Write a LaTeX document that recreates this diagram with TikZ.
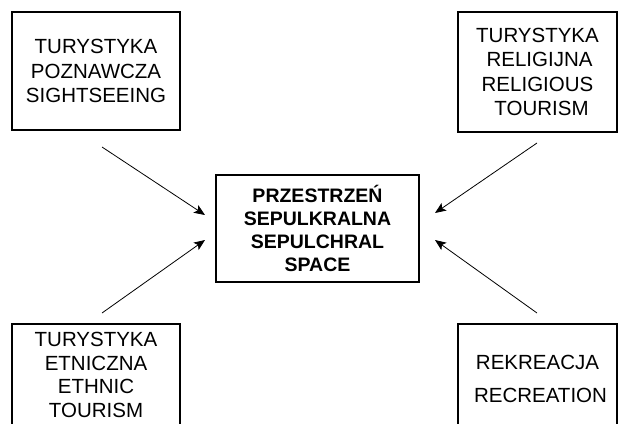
\documentclass[tikz,border=0pt]{standalone}
\usepackage{fontspec}
\setmainfont{Liberation Sans}
\usetikzlibrary{arrows.meta}
\begin{document}
\begin{tikzpicture}[x=1pt,y=-1pt,
  box/.style={draw=black,line width=1.6pt,inner sep=0pt,align=center,
    font=\fontsize{20.5}{24.5}\selectfont},
  cbox/.style={box,font=\fontsize{19.5}{23}\selectfont\bfseries},
  arr/.style={line width=0.8pt,-{Stealth[length=11pt,width=9pt,inset=2.5pt]}}]
\useasboundingbox[fill=white] (0,0) rectangle (618,423);
\node[box,minimum width=168pt,minimum height=118pt] (tl) at (96,71)
  {TURYSTYKA\\POZNAWCZA\\SIGHTSEEING};
\node[box,minimum width=159pt,minimum height=120pt] (tr) at (537.5,72)
  {TURYSTYKA\\\hspace*{4pt}RELIGIJNA\\RELIGIOUS\\\hspace*{8pt}TOURISM};
\node[cbox,minimum width=203pt,minimum height=107pt] (c) at (317.5,228.5)
  {PRZESTRZEŃ\\SEPULKRALNA\\SEPULCHRAL\\SPACE};
\node[box,minimum width=168pt,minimum height=102pt,
  font=\fontsize{20.5}{23.5}\selectfont] (bl) at (96,375)
  {TURYSTYKA\\ETNICZNA\\ETHNIC\\TOURISM};
\node[box,minimum width=159pt,minimum height=110pt] (br) at (537.5,379)
  {REKREACJA\\[8.5pt]\hspace*{6pt}RECREATION};
\coordinate (s1) at (102,147);
\coordinate (t1) at (205,215);
\coordinate (s2) at (537,143);
\coordinate (t2) at (435,213);
\coordinate (s3) at (102,313);
\coordinate (t3) at (205,240);
\coordinate (s4) at (537,313);
\coordinate (t4) at (435,240);
\draw[arr] (s1) -- (t1);
\draw[arr] (s2) -- (t2);
\draw[arr] (s3) -- (t3);
\draw[arr] (s4) -- (t4);
\end{tikzpicture}
\end{document}
